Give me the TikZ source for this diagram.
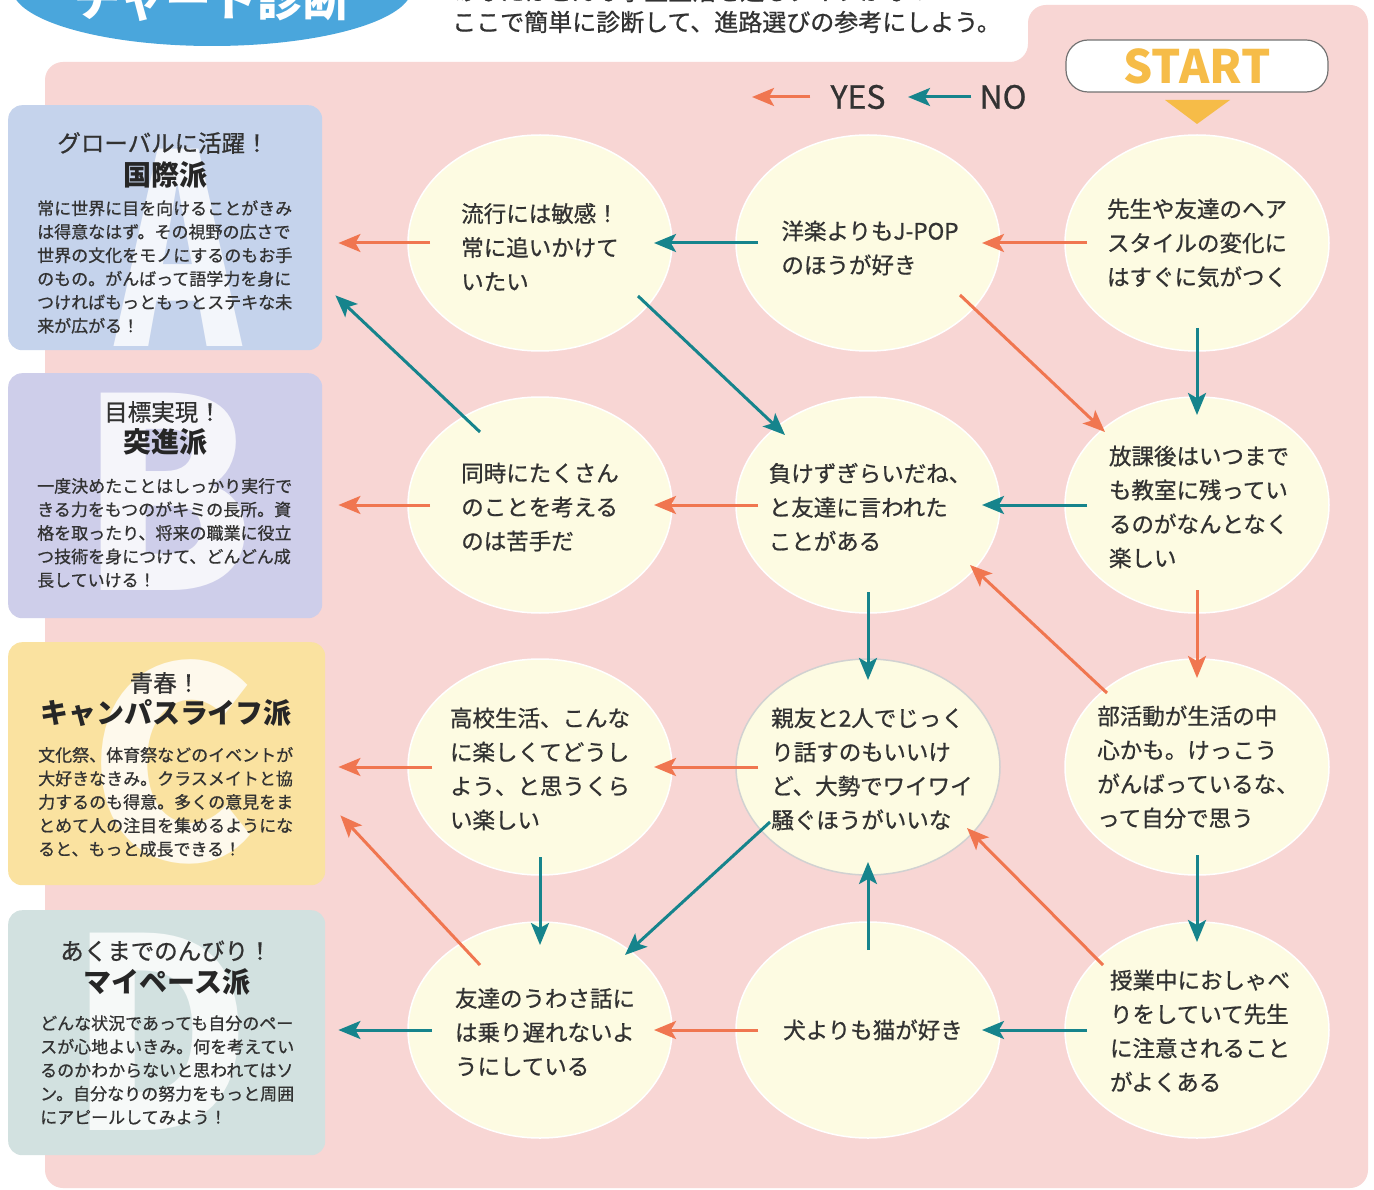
\documentclass[tikz,border=0pt]{standalone}
\usepackage{fontspec}
\setmainfont{Noto Sans CJK JP}
\newfontfamily\jpmed[FakeBold=0.8]{Noto Sans CJK JP}
\usetikzlibrary{arrows.meta,shapes.geometric}
\definecolor{pinkbg}{RGB}{248,214,212}
\definecolor{cream}{RGB}{253,251,226}
\definecolor{yescol}{RGB}{240,118,80}
\definecolor{nocol}{RGB}{22,132,140}
\definecolor{boxAcol}{RGB}{197,211,236}
\definecolor{boxBcol}{RGB}{206,206,234}
\definecolor{boxCcol}{RGB}{250,226,160}
\definecolor{boxDcol}{RGB}{210,225,224}
\definecolor{ellblue}{RGB}{74,166,220}
\definecolor{startcol}{RGB}{246,188,72}
\definecolor{txtcol}{RGB}{50,50,50}
\tikzset{
  qcirc/.style={ellipse, fill=cream, draw=white, line width=1.5pt, minimum width=264pt, minimum height=216pt, inner sep=0pt},
  qtext/.style={font=\jpmed\fontsize{22.5}{34}\selectfont, align=left, text=txtcol, inner sep=0pt},
  yesar/.style={draw=yescol, line width=3pt, -{Stealth[length=22pt,width=18pt,inset=5pt]}},
  noar/.style={draw=nocol, line width=3pt, -{Stealth[length=22pt,width=18pt,inset=5pt]}},
  hs/.style={shorten <=110pt, shorten >=114pt},
  resbox/.style={rounded corners=14pt, minimum width=314pt, minimum height=245pt, anchor=north west, inner sep=0pt},
  bigletter/.style={font=\bfseries\fontsize{265}{265}\selectfont, text=white, text opacity=0.8, anchor=base, inner sep=0pt},
  rtitle/.style={font=\jpmed\fontsize{23.5}{28}\selectfont, text=txtcol, inner sep=0pt},
  rname/.style={font=\bfseries\fontsize{28}{32}\selectfont, text=black!85, inner sep=0pt},
  rbody/.style={font=\jpmed\fontsize{17}{23.5}\selectfont, align=left, text=txtcol, anchor=west, inner sep=0pt},
}
\begin{document}
\begin{tikzpicture}[x=1pt,y=-1pt]
\path[use as bounding box] (0,0) rectangle (1374,1190);
\clip (0,0) rectangle (1374,1190);
\fill[white] (0,0) rectangle (1374,1190);

% header
\fill[ellblue] (212,-12) ellipse [x radius=200pt, y radius=58pt];
\node[font=\bfseries\fontsize{46}{46}\selectfont, text=white, anchor=base, inner sep=0pt] (title) at (212,17) {チャート診断};
\node[font=\jpmed\fontsize{24}{30}\selectfont, text=txtcol, anchor=west, inner sep=0pt] (head1) at (452,-9) {あなたはどんな学生生活を送るタイプかな？};
\node[font=\jpmed\fontsize{24}{30}\selectfont, text=txtcol, anchor=west, inner sep=0pt] (head2) at (452,22) {ここで簡単に診断して、進路選びの参考にしよう。};

% pink background
\fill[pinkbg, rounded corners=18pt] (45,62) -- (1028,62) -- (1028,5) -- (1368,5) -- (1368,1188) -- (45,1188) -- cycle;

% start
\node[draw=black!55, line width=1.2pt, fill=white, rounded corners=22pt, minimum width=262pt, minimum height=52pt, inner sep=0pt,
      font=\bfseries\fontsize{46}{46}\selectfont, text=startcol] (start) at (1197,66) {START};
\fill[startcol] (1165,100) -- (1230,100) -- (1197,124) -- cycle;

% legend
\node[font=\jpmed\fontsize{32}{32}\selectfont, text=txtcol, inner sep=0pt] (yeslbl) at (858,97) {YES};
\node[font=\jpmed\fontsize{32}{32}\selectfont, text=txtcol, inner sep=0pt] (nolbl) at (1003,97) {NO};
\coordinate (yesend) at (752,97);
\coordinate (noend) at (908,97);
\draw[yesar] ([xshift=-20pt]yeslbl.west) -- (yesend);
\draw[noar] ([xshift=-8pt]nolbl.west) -- (noend);

% result boxes
\node[resbox, fill=boxAcol] (boxA) at (8,105) {};
\node[resbox, fill=boxBcol] (boxB) at (8,373) {};
\node[resbox, fill=boxCcol, minimum width=317pt, minimum height=243pt] (boxC) at (8,642) {};
\node[resbox, fill=boxDcol, minimum width=317pt] (boxD) at (8,910) {};

\node[bigletter, xscale=0.72] (letA) at (178,347) {A};
\node[bigletter, xscale=0.95] (letB) at (167,590) {B};
\node[bigletter, xscale=0.95] (letC) at (172,860) {C};
\node[bigletter, xscale=0.95] (letD) at (160,1130) {D};

\node[rtitle] (tA1) at (163,143) {グローバルに活躍！};
\node[rname] (tA2) at (165,175) {国際派};
\node[rbody] (bA) at (37,267) {常に世界に目を向けることがきみ\\は得意なはず。その視野の広さで\\世界の文化をモノにするのもお手\\のもの。がんばって語学力を身に\\つければもっともっとステキな未\\来が広がる！};

\node[rtitle] (tB1) at (163,412) {目標実現！};
\node[rname] (tB2) at (165,442) {突進派};
\node[rbody] (bB) at (37,533) {一度決めたことはしっかり実行で\\きる力をもつのがキミの長所。資\\格を取ったり、将来の職業に役立\\つ技術を身につけて、どんどん成\\長していける！};

\node[rtitle] (tC1) at (165,683) {青春！};
\node[rname] (tC2) at (166,713) {キャンパスライフ派};
\node[rbody] (bC) at (38,802) {文化祭、体育祭などのイベントが\\大好きなきみ。クラスメイトと協\\力するのも得意。多くの意見をま\\とめて人の注目を集めるようにな\\ると、もっと成長できる！};

\node[rtitle] (tD1) at (166,951) {あくまでのんびり！};
\node[rname] (tD2) at (167,982) {マイペース派};
\node[rbody] (bD) at (40,1070) {どんな状況であっても自分のペー\\スが心地よいきみ。何を考えてい\\るのかわからないと思われてはソ\\ン。自分なりの努力をもっと周囲\\にアピールしてみよう！};

% question circles
\node[qcirc] (r1c1) at (540,243) {};
\node[qcirc] (r1c2) at (868,243) {};
\node[qcirc] (r1c3) at (1197,243) {};
\node[qcirc] (r2c1) at (540,505) {};
\node[qcirc] (r2c2) at (868,505) {};
\node[qcirc] (r2c3) at (1197,505) {};
\node[qcirc] (r3c1) at (540,767) {};
\node[qcirc, draw=black!18] (r3c2) at (868,767) {};
\node[qcirc] (r3c3) at (1197,767) {};
\node[qcirc] (r4c1) at (540,1030) {};
\node[qcirc] (r4c2) at (868,1030) {};
\node[qcirc] (r4c3) at (1197,1030) {};

\node[qtext] (q13) at (1197,243) {先生や友達のヘア\\スタイルの変化に\\はすぐに気がつく};
\node[qtext] (q12) at (870,248) {洋楽よりもJ-POP\\のほうが好き};
\node[qtext] (q11) at (540,247) {流行には敏感！\\常に追いかけて\\いたい};
\node[qtext] (q23) at (1199,507) {放課後はいつまで\\も教室に残ってい\\るのがなんとなく\\楽しい};
\node[qtext] (q22) at (870,507) {負けずぎらいだね、\\と友達に言われた\\ことがある};
\node[qtext] (q21) at (540,507) {同時にたくさん\\のことを考える\\のは苦手だ};
\node[qtext] (q33) at (1198,767) {部活動が生活の中\\心かも。けっこう\\がんばっているな、\\って自分で思う};
\node[qtext] (q32) at (872,769) {親友と2人でじっく\\り話すのもいいけ\\ど、大勢でワイワイ\\騒ぐほうがいいな};
\node[qtext] (q31) at (540,769) {高校生活、こんな\\に楽しくてどうし\\よう、と思うくら\\い楽しい};
\node[qtext] (q43) at (1200,1031) {授業中におしゃべ\\りをしていて先生\\に注意されること\\がよくある};
\node[qtext] (q42) at (873,1030) {犬よりも猫が好き};
\node[qtext] (q41) at (545,1032) {友達のうわさ話に\\は乗り遅れないよ\\うにしている};

% connectors: horizontal
\draw[yesar, hs] (r1c3.center) -- (r1c2.center);
\draw[noar, hs] (r1c2.center) -- (r1c1.center);
\draw[noar, hs] (r2c3.center) -- (r2c2.center);
\draw[yesar, hs] (r2c2.center) -- (r2c1.center);
\draw[yesar, hs] (r3c2.center) -- (r3c1.center);
\draw[noar, hs] (r4c3.center) -- (r4c2.center);
\draw[yesar, hs] (r4c2.center) -- (r4c1.center);

% to result boxes
\draw[yesar, shorten <=110pt, shorten >=16pt] (r1c1.center) -- (boxA.east |- r1c1.center);
\draw[yesar, shorten <=110pt, shorten >=16pt] (r2c1.center) -- (boxB.east |- r2c1.center);
\draw[yesar, shorten <=108pt, shorten >=13pt] (r3c1.center) -- (boxC.east |- r3c1.center);
\draw[noar, shorten <=108pt, shorten >=13pt] (r4c1.center) -- (boxD.east |- r4c1.center);
\draw[noar] ([shift={(-60,-73)}]r2c1.center) -- ([shift={(13,-55)}]boxA.south east);
\draw[yesar] ([shift={(-60,-65)}]r4c1.center) -- ([shift={(15,-70)}]boxC.south east);

% vertical
\draw[noar, shorten <=85pt, shorten >=90pt] (r1c3.center) -- (r2c3.center);
\draw[yesar, shorten <=85pt, shorten >=89pt] (r2c3.center) -- (r3c3.center);
\draw[noar, shorten <=87pt, shorten >=87pt] (r2c2.center) -- (r3c2.center);
\draw[noar, shorten <=88pt, shorten >=88pt] (r3c3.center) -- (r4c3.center);
\draw[noar, shorten <=90pt, shorten >=85pt] (r3c1.center) -- (r4c1.center);
\draw[noar, shorten <=80pt, shorten >=95pt] (r4c2.center) -- (r3c2.center);

% diagonals
\draw[yesar] ([shift={(92,52)}]r1c2.center) -- ([shift={(-92,-73)}]r2c3.center);
\draw[noar] ([shift={(98,53)}]r1c1.center) -- ([shift={(-83,-70)}]r2c2.center);
\draw[yesar] ([shift={(-90,-74)}]r3c3.center) -- ([shift={(102,60)}]r2c2.center);
\draw[noar] ([shift={(-98,55)}]r3c2.center) -- ([shift={(85,-75)}]r4c1.center);
\draw[yesar] ([shift={(-94,-65)}]r4c3.center) -- ([shift={(99,61)}]r3c2.center);
\end{tikzpicture}
\end{document}
